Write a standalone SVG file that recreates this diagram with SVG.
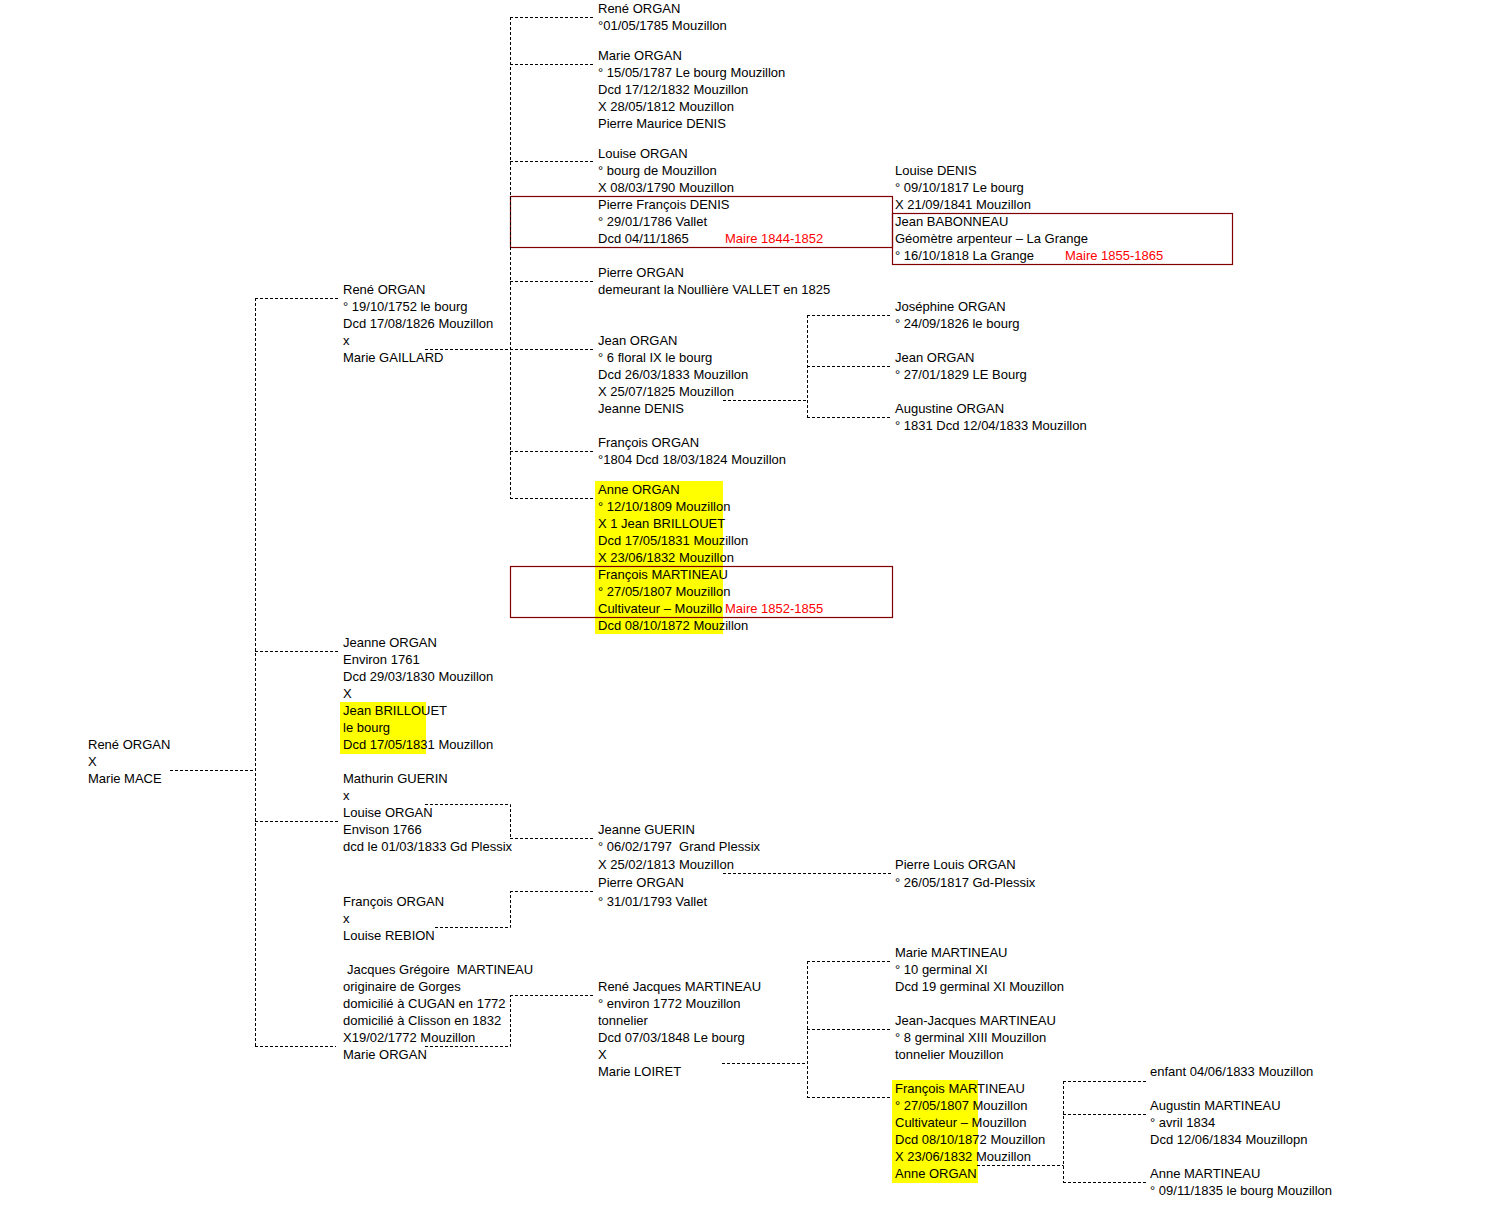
<svg xmlns="http://www.w3.org/2000/svg" width="1499" height="1227" viewBox="0 0 1499 1227">
<style>
text{font-family:"Liberation Sans",Arial,sans-serif;font-size:13px;fill:#000;}
.red{fill:#ff0000;}
.c{fill:none;stroke:#000;stroke-width:1;stroke-dasharray:3,2;}
.box{fill:none;stroke:#800000;stroke-width:1.2;}
.hl{fill:#ffff00;}
</style>
<rect width="1499" height="1227" fill="#fff"/>
<g id="highlights">
<rect class="hl" x="595" y="481" width="128" height="153"/>
<rect class="hl" x="340" y="702" width="86" height="52"/>
<rect class="hl" x="892" y="1080" width="86" height="103"/>
</g>
<g id="boxes">
<rect class="box" x="510.5" y="196.5" width="382" height="51"/>
<rect class="box" x="892.5" y="213.5" width="340" height="51"/>
<rect class="box" x="510.5" y="566.5" width="382" height="51"/>
</g>
<g id="connectors">
<path class="c" d="M170,770.5H255.5M255.5,298V1046M255,298.5H338M255,651.5H338M255,821.5H338M255,1046.5H336"/>
<path class="c" d="M510.5,17V498M510,17.5H595M510,64.5H595M510,161.5H595M510,281.5H595M425,349.5H595M510,451.5H595M510,498.5H595"/>
<path class="c" d="M723,400.5H807.5M807.5,315V417M807,315.5H892M807,366.5H892M807,417.5H892"/>
<path class="c" d="M425,804.5H510.5V838M510,838.5H595"/>
<path class="c" d="M723,873.5H892"/>
<path class="c" d="M435,927.5H510.5V891M510,891.5H595"/>
<path class="c" d="M425,1046.5H510.5V995M510,995.5H595"/>
<path class="c" d="M722,1063.5H807.5M807.5,961V1097M807,961.5H892M807,1029.5H892M807,1097.5H892"/>
<path class="c" d="M977,1165.5H1063.5M1063.5,1081V1182M1063,1081.5H1147M1063,1114.5H1147M1063,1182.5H1147"/>
</g>
<g id="n-root">
<text x="88" y="749">René ORGAN</text>
<text x="88" y="766">X</text>
<text x="88" y="783">Marie MACE</text>
</g>
<g id="n-rene-gaillard">
<text x="343" y="294">René ORGAN</text>
<text x="343" y="311">° 19/10/1752 le bourg</text>
<text x="343" y="328">Dcd 17/08/1826 Mouzillon</text>
<text x="343" y="345">x</text>
<text x="343" y="362">Marie GAILLARD</text>
</g>
<g id="n-jeanne-organ">
<text x="343" y="647">Jeanne ORGAN</text>
<text x="343" y="664">Environ 1761</text>
<text x="343" y="681">Dcd 29/03/1830 Mouzillon</text>
<text x="343" y="698">X</text>
<text x="343" y="715">Jean BRILLOUET</text>
<text x="343" y="732">le bourg</text>
<text x="343" y="749">Dcd 17/05/1831 Mouzillon</text>
</g>
<g id="n-louise-organ-guerin">
<text x="343" y="783">Mathurin GUERIN</text>
<text x="343" y="800">x</text>
<text x="343" y="817">Louise ORGAN</text>
<text x="343" y="834">Envison 1766</text>
<text x="343" y="851">dcd le 01/03/1833 Gd Plessix</text>
</g>
<g id="n-francois-rebion">
<text x="343" y="906">François ORGAN</text>
<text x="343" y="923">x</text>
<text x="343" y="940">Louise REBION</text>
</g>
<g id="n-jacques-martineau">
<text x="347" y="974" xml:space="preserve">Jacques Grégoire  MARTINEAU</text>
<text x="343" y="991">originaire de Gorges</text>
<text x="343" y="1008">domicilié à CUGAN en 1772</text>
<text x="343" y="1025">domicilié à Clisson en 1832</text>
<text x="343" y="1042">X19/02/1772 Mouzillon</text>
<text x="343" y="1059">Marie ORGAN</text>
</g>
<g id="n-rene-1785">
<text x="598" y="13">René ORGAN</text>
<text x="598" y="30">°01/05/1785 Mouzillon</text>
</g>
<g id="n-marie-organ">
<text x="598" y="60">Marie ORGAN</text>
<text x="598" y="77">° 15/05/1787 Le bourg Mouzillon</text>
<text x="598" y="94">Dcd 17/12/1832 Mouzillon</text>
<text x="598" y="111">X 28/05/1812 Mouzillon</text>
<text x="598" y="128">Pierre Maurice DENIS</text>
</g>
<g id="n-louise-denis-pf">
<text x="598" y="158">Louise ORGAN</text>
<text x="598" y="175">° bourg de Mouzillon</text>
<text x="598" y="192">X 08/03/1790 Mouzillon</text>
<text x="598" y="209">Pierre François DENIS</text>
<text x="598" y="226">° 29/01/1786 Vallet</text>
<text x="598" y="243">Dcd 04/11/1865</text>
<text class="red" x="725" y="243">Maire 1844-1852</text>
</g>
<g id="n-pierre-organ-vallet">
<text x="598" y="277">Pierre ORGAN</text>
<text x="598" y="294">demeurant la Noullière VALLET en 1825</text>
</g>
<g id="n-jean-organ">
<text x="598" y="345">Jean ORGAN</text>
<text x="598" y="362">° 6 floral IX le bourg</text>
<text x="598" y="379">Dcd 26/03/1833 Mouzillon</text>
<text x="598" y="396">X 25/07/1825 Mouzillon</text>
<text x="598" y="413">Jeanne DENIS</text>
</g>
<g id="n-francois-1804">
<text x="598" y="447">François ORGAN</text>
<text x="598" y="464">°1804 Dcd 18/03/1824 Mouzillon</text>
</g>
<g id="n-anne-organ">
<text x="598" y="494">Anne ORGAN</text>
<text x="598" y="511">° 12/10/1809 Mouzillon</text>
<text x="598" y="528">X 1 Jean BRILLOUET</text>
<text x="598" y="545">Dcd 17/05/1831 Mouzillon</text>
<text x="598" y="562">X 23/06/1832 Mouzillon</text>
<text x="598" y="579">François MARTINEAU</text>
<text x="598" y="596">° 27/05/1807 Mouzillon</text>
<text x="598" y="613">Cultivateur – Mouzillo</text>
<text class="red" x="725" y="613">Maire 1852-1855</text>
<text x="598" y="630">Dcd 08/10/1872 Mouzillon</text>
</g>
<g id="n-jeanne-guerin">
<text x="598" y="834">Jeanne GUERIN</text>
<text x="598" y="851" xml:space="preserve">° 06/02/1797  Grand Plessix</text>
<text x="598" y="869">X 25/02/1813 Mouzillon</text>
<text x="598" y="887">Pierre ORGAN</text>
<text x="598" y="906">° 31/01/1793 Vallet</text>
</g>
<g id="n-rene-jacques">
<text x="598" y="991">René Jacques MARTINEAU</text>
<text x="598" y="1008">° environ 1772 Mouzillon</text>
<text x="598" y="1025">tonnelier</text>
<text x="598" y="1042">Dcd 07/03/1848 Le bourg</text>
<text x="598" y="1059">X</text>
<text x="598" y="1076">Marie LOIRET</text>
</g>
<g id="n-louise-denis">
<text x="895" y="175">Louise DENIS</text>
<text x="895" y="192">° 09/10/1817 Le bourg</text>
<text x="895" y="209">X 21/09/1841 Mouzillon</text>
<text x="895" y="226">Jean BABONNEAU</text>
<text x="895" y="243">Géomètre arpenteur – La Grange</text>
<text x="895" y="260">° 16/10/1818 La Grange</text>
<text class="red" x="1065" y="260">Maire 1855-1865</text>
</g>
<g id="n-josephine">
<text x="895" y="311">Joséphine ORGAN</text>
<text x="895" y="328">° 24/09/1826 le bourg</text>
</g>
<g id="n-jean-1829">
<text x="895" y="362">Jean ORGAN</text>
<text x="895" y="379">° 27/01/1829 LE Bourg</text>
</g>
<g id="n-augustine">
<text x="895" y="413">Augustine ORGAN</text>
<text x="895" y="430">° 1831 Dcd 12/04/1833 Mouzillon</text>
</g>
<g id="n-pierre-louis">
<text x="895" y="869">Pierre Louis ORGAN</text>
<text x="895" y="887">° 26/05/1817 Gd-Plessix</text>
</g>
<g id="n-marie-martineau">
<text x="895" y="957">Marie MARTINEAU</text>
<text x="895" y="974">° 10 germinal XI</text>
<text x="895" y="991">Dcd 19 germinal XI Mouzillon</text>
</g>
<g id="n-jean-jacques">
<text x="895" y="1025">Jean-Jacques MARTINEAU</text>
<text x="895" y="1042">° 8 germinal XIII Mouzillon</text>
<text x="895" y="1059">tonnelier Mouzillon</text>
</g>
<g id="n-francois-martineau">
<text x="895" y="1093">François MARTINEAU</text>
<text x="895" y="1110">° 27/05/1807 Mouzillon</text>
<text x="895" y="1127">Cultivateur – Mouzillon</text>
<text x="895" y="1144">Dcd 08/10/1872 Mouzillon</text>
<text x="895" y="1161">X 23/06/1832 Mouzillon</text>
<text x="895" y="1178">Anne ORGAN</text>
</g>
<g id="n-enfant">
<text x="1150" y="1076">enfant 04/06/1833 Mouzillon</text>
</g>
<g id="n-augustin">
<text x="1150" y="1110">Augustin MARTINEAU</text>
<text x="1150" y="1127">° avril 1834</text>
<text x="1150" y="1144">Dcd 12/06/1834 Mouzillopn</text>
</g>
<g id="n-anne-martineau">
<text x="1150" y="1178">Anne MARTINEAU</text>
<text x="1150" y="1195">° 09/11/1835 le bourg Mouzillon</text>
</g>
</svg>
